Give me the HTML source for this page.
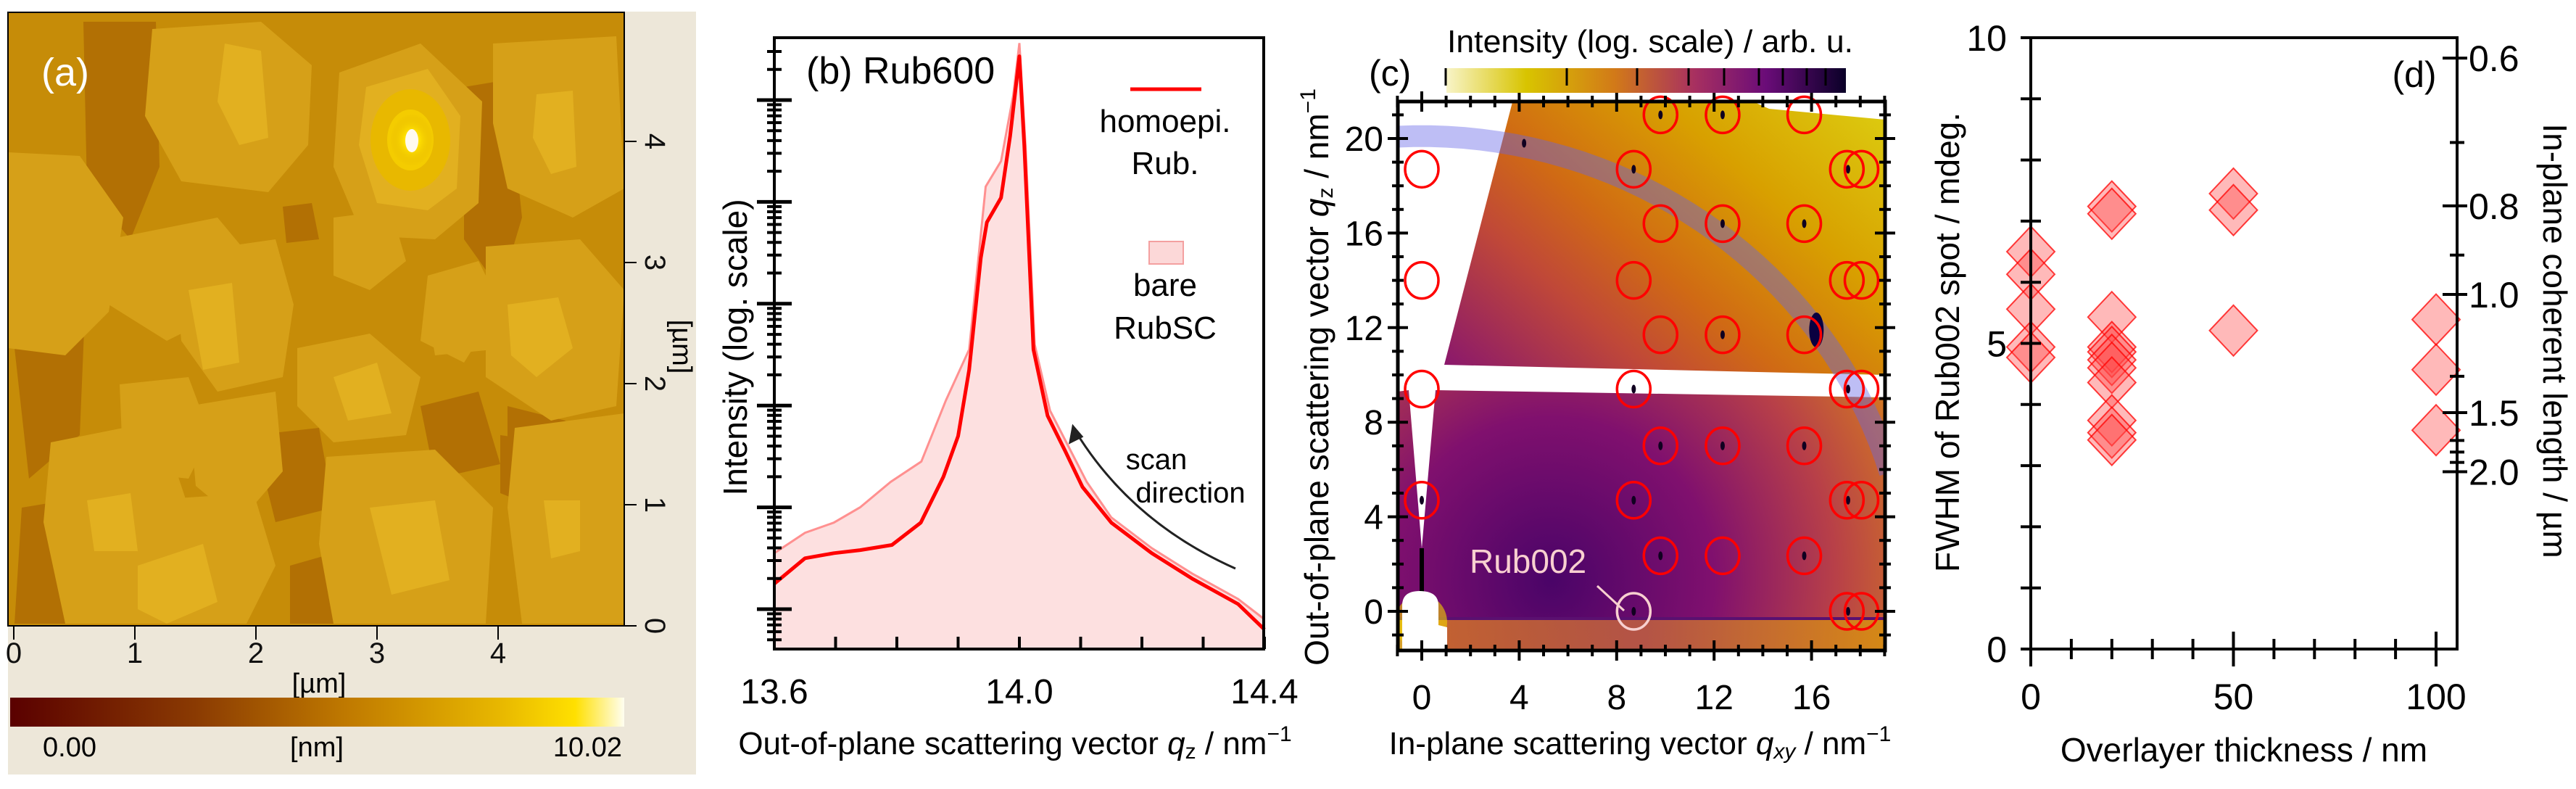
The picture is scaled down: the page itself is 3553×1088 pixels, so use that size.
<!DOCTYPE html>
<html><head><meta charset="utf-8"><style>
html,body{margin:0;padding:0;background:#fff;width:3553px;height:1088px;overflow:hidden;}
svg{display:block;font-family:"Liberation Sans",Arial,sans-serif;}
.n{font-family:"Liberation Sans Narrow","Liberation Sans",sans-serif;}
</style></head><body>
<svg id="fig" width="3553" height="1088" viewBox="0 0 3553 1088" xmlns="http://www.w3.org/2000/svg">
<defs>
<linearGradient id="afmbar" x1="0" x2="1" y1="0" y2="0">
<stop offset="0" stop-color="#5a0000"/><stop offset="0.3" stop-color="#8a3a02"/><stop offset="0.55" stop-color="#c07a00"/><stop offset="0.8" stop-color="#e8b800"/><stop offset="0.92" stop-color="#ffe000"/><stop offset="1" stop-color="#fffef0"/>
</linearGradient>
<radialGradient id="peak" cx="0.5" cy="0.5" r="0.5"><stop offset="0" stop-color="#fffff0"/><stop offset="0.35" stop-color="#ffe000"/><stop offset="1" stop-color="#e0b000" stop-opacity="0"/></radialGradient>
<linearGradient id="cbar" x1="0" x2="1" y1="0" y2="0">
<stop offset="0" stop-color="#f8f4c8"/><stop offset="0.2" stop-color="#d8c400"/><stop offset="0.42" stop-color="#d27a18"/><stop offset="0.62" stop-color="#a83060"/><stop offset="0.8" stop-color="#6a0c78"/><stop offset="1" stop-color="#0a0028"/>
</linearGradient>
<linearGradient id="upper" gradientUnits="userSpaceOnUse" x1="1960" y1="880" x2="2600" y2="150">
<stop offset="0" stop-color="#3a0660"/><stop offset="0.3" stop-color="#861470"/><stop offset="0.5" stop-color="#c04838"/><stop offset="0.62" stop-color="#d06a14"/><stop offset="0.8" stop-color="#d8a000"/><stop offset="1" stop-color="#dccc10"/>
</linearGradient>
<radialGradient id="lower" gradientUnits="userSpaceOnUse" cx="2140" cy="800" r="560">
<stop offset="0" stop-color="#4a0468"/><stop offset="0.4" stop-color="#80106e"/><stop offset="0.7" stop-color="#b84048"/><stop offset="1" stop-color="#d8861a"/>
</radialGradient>
<linearGradient id="strip" x1="0" x2="1" y1="0" y2="0"><stop offset="0" stop-color="#e8c020"/><stop offset="0.1" stop-color="#d07028"/><stop offset="0.5" stop-color="#c06040"/><stop offset="1" stop-color="#d89010"/></linearGradient>
<clipPath id="cclip"><rect x="1928" y="140" width="672" height="757"/></clipPath>
<clipPath id="aclip"><rect x="11" y="17" width="850" height="846"/></clipPath>
</defs>

<!-- PANEL A -->
<g>
<rect x="11" y="16" width="949" height="1052" fill="#ede7d9"/>
<g clip-path="url(#aclip)">
<rect x="11" y="17" width="850" height="846" fill="#c68c08"/>
<g fill="#b27004">
<path d="M115,30 L215,30 L220,230 L180,330 L120,260 Z"/>
<path d="M640,120 L700,110 L720,300 L690,400 L640,330 Z"/>
<path d="M390,285 L430,280 L440,330 L395,335 Z"/>
<path d="M60,330 L120,360 L110,600 L40,660 L20,480 Z"/>
<path d="M430,480 L520,470 L540,560 L470,600 L420,560 Z"/>
<path d="M350,600 L440,590 L460,700 L380,720 Z"/>
<path d="M580,560 L660,540 L690,640 L600,660 Z"/>
<path d="M700,560 L780,580 L760,640 L700,620 Z"/>
<path d="M30,700 L90,690 L100,860 L20,860 Z"/>
<path d="M400,780 L470,760 L480,860 L400,860 Z"/>
<path d="M690,600 L760,610 L740,700 L690,680 Z"/>
</g>
<g fill="#d6a018">
<path d="M210,40 L360,30 L430,90 L425,200 L370,265 L250,250 L200,160 Z"/>
<path d="M468,100 L580,60 L665,140 L660,280 L600,330 L500,325 L460,230 Z"/>
<path d="M680,60 L850,50 L861,260 L790,300 L700,260 L680,170 Z"/>
<path d="M11,210 L110,215 L170,300 L150,430 L90,490 L11,480 Z"/>
<path d="M150,330 L300,300 L350,360 L330,420 L230,470 L150,420 Z"/>
<path d="M240,350 L380,330 L405,420 L390,520 L300,540 L250,470 Z"/>
<path d="M460,300 L540,290 L560,360 L510,400 L460,380 Z"/>
<path d="M590,380 L660,360 L690,420 L640,500 L580,470 Z"/>
<path d="M670,340 L800,330 L861,400 L850,560 L760,580 L670,520 Z"/>
<path d="M410,480 L510,460 L580,520 L560,600 L460,610 L410,560 Z"/>
<path d="M165,530 L260,520 L290,600 L260,660 L170,650 Z"/>
<path d="M260,560 L380,540 L390,650 L330,720 L270,670 Z"/>
<path d="M70,610 L220,580 L260,700 L240,860 L90,860 L60,720 Z"/>
<path d="M200,690 L350,680 L380,780 L340,860 L200,860 Z"/>
<path d="M450,630 L600,620 L680,700 L670,860 L460,860 L440,750 Z"/>
<path d="M710,590 L861,570 L861,860 L720,860 L700,700 Z"/>
<path d="M590,430 L720,420 L700,480 L600,490 Z"/>
</g>
<g fill="#e2b020">
<path d="M310,60 L360,70 L370,190 L330,200 L300,140 Z"/>
<path d="M505,120 L590,95 L635,160 L630,260 L590,290 L520,280 L495,200 Z"/>
<path d="M740,130 L790,125 L795,230 L760,240 L735,190 Z"/>
<path d="M260,400 L320,390 L330,500 L280,510 Z"/>
<path d="M700,420 L770,410 L790,480 L740,520 L705,490 Z"/>
<path d="M460,520 L520,500 L540,570 L480,580 Z"/>
<path d="M190,780 L280,750 L300,830 L230,860 L190,840 Z"/>
<path d="M510,700 L600,690 L620,800 L540,820 Z"/>
<path d="M120,690 L180,680 L190,760 L130,760 Z"/>
<path d="M750,690 L800,690 L800,760 L760,770 Z"/>
</g>
<ellipse cx="566" cy="193" rx="55" ry="70" fill="#e8b800"/>
<ellipse cx="566" cy="193" rx="32" ry="42" fill="#f4cc00"/>
<ellipse cx="568" cy="193" rx="30" ry="36" fill="url(#peak)"/>
<ellipse cx="568" cy="194" rx="9" ry="16" fill="#fffaf0"/>
</g>
<rect x="11" y="17" width="850" height="846" fill="none" stroke="#000" stroke-width="2"/>
<text x="57" y="118" font-size="54" fill="#fff">(a)</text>
<g id="afmAxes" class="n" font-size="40" fill="#111"></g>
<text x="440" y="955" font-size="38" class="n" text-anchor="middle">[µm]</text>
<text transform="translate(928,478) rotate(90)" font-size="38" class="n" text-anchor="middle">[µm]</text>
<rect x="14" y="962" width="847" height="40" fill="url(#afmbar)"/>
<text x="96" y="1043" font-size="38" class="n" text-anchor="middle">0.00</text>
<text x="437" y="1043" font-size="38" class="n" text-anchor="middle">[nm]</text>
<text x="858" y="1043" font-size="38" class="n" text-anchor="end">10.02</text>
</g>

<!-- PANEL B -->
<g id="panelB">
<rect x="1068" y="52" width="675" height="843" fill="#fff"/>
<g id="bPlot"></g>
<rect x="1068" y="52" width="675" height="843" fill="none" stroke="#000" stroke-width="4"/>
<g id="bAxes"></g>
<text x="1112" y="115" font-size="52">(b) Rub600</text>
<line x1="1559" y1="123" x2="1657" y2="123" stroke="#ff0000" stroke-width="5"/>
<text x="1607" y="182" font-size="44" text-anchor="middle">homoepi.</text>
<text x="1607" y="240" font-size="44" text-anchor="middle">Rub.</text>
<rect x="1585" y="333" width="47" height="31" fill="#fcd8d8" stroke="#f4a0a0" stroke-width="2"/>
<text x="1607" y="408" font-size="44" text-anchor="middle">bare</text>
<text x="1607" y="467" font-size="44" text-anchor="middle">RubSC</text>
<text x="1595" y="647" font-size="40" text-anchor="middle">scan</text>
<text x="1642" y="693" font-size="40" text-anchor="middle">direction</text>
<path d="M1704,784 Q1560,720 1483,594" fill="none" stroke="#222" stroke-width="3"/>
<path d="M1480,588 L1476,610 L1492,602 Z" fill="#222" stroke="#222" stroke-width="3"/>
<text transform="translate(1030,479) rotate(-90)" font-size="46" text-anchor="middle">Intensity (log. scale)</text>
<text x="1400" y="1040" font-size="44" text-anchor="middle">Out-of-plane scattering vector <tspan font-style="italic">q</tspan><tspan font-size="30" dy="6">z</tspan><tspan dy="-6"> / nm</tspan><tspan font-size="30" dy="-18">−1</tspan></text>
</g>

<!-- PANEL C -->
<g id="panelC">
<g clip-path="url(#cclip)">
<path d="M2086,141 L2420,141 L2440,150 L2600,165 L2600,517 L1992,503 Z" fill="url(#upper)"/>
<path d="M1928,540 L1943,538 L1961,756 L1980,538 L2600,548 L2600,897 L1928,897 Z" fill="url(#lower)"/>
<rect x="1928" y="853" width="672" height="44" fill="url(#strip)" opacity="0.85"/>
<line x1="1928" y1="853" x2="2600" y2="853" stroke="#5a1070" stroke-width="4"/>
<line x1="1961" y1="756" x2="1961" y2="830" stroke="#000" stroke-width="6"/>
<ellipse cx="1960" cy="858" rx="36" ry="38" fill="#f2d000" opacity="0.6"/>
<path d="M1934,893 L1934,835 Q1934,815 1958,815 Q1984,815 1984,835 L1984,862 L1996,865 L1996,897 L1934,897 Z" fill="#fff"/>
<g id="ring"></g>
<g id="cSpots"></g>
</g>
<g id="cCircles"></g>
<rect x="1928" y="140" width="672" height="757" fill="none" stroke="#000" stroke-width="5"/>
<g id="cAxes"></g>
<rect x="1995" y="94" width="551" height="34" fill="url(#cbar)"/>
<g id="cbarTicks" stroke="#000" stroke-width="3"></g>
<text x="2276" y="72" font-size="44" text-anchor="middle" textLength="560" lengthAdjust="spacingAndGlyphs">Intensity (log. scale) / arb. u.</text>
<text x="1888" y="118" font-size="50">(c)</text>
<text x="2027" y="790" font-size="46" fill="#f8d0d0">Rub002</text>
<line x1="2203" y1="808" x2="2240" y2="842" stroke="#f8d0d0" stroke-width="3"/>
<text transform="translate(1832,520) rotate(-90)" font-size="46" text-anchor="middle">Out-of-plane scattering vector <tspan font-style="italic">q</tspan><tspan font-size="30" dy="6">z</tspan><tspan dy="-6"> / nm</tspan><tspan font-size="30" dy="-18">−1</tspan></text>
<text x="2262" y="1040" font-size="44" text-anchor="middle">In-plane scattering vector <tspan font-style="italic">q</tspan><tspan font-size="30" dy="6" font-style="italic">xy</tspan><tspan dy="-6"> / nm</tspan><tspan font-size="30" dy="-18">−1</tspan></text>
</g>

<!-- PANEL D -->
<g id="panelD">
<g id="dMarks"></g>
<rect x="2801" y="52" width="588" height="843" fill="none" stroke="#000" stroke-width="4"/>
<g id="dAxes"></g>
<text x="3330" y="120" font-size="50" text-anchor="middle">(d)</text>
<text transform="translate(2702,472) rotate(-90)" font-size="46" text-anchor="middle">FWHM of Rub002 spot / mdeg.</text>
<text transform="translate(3508,470) rotate(90)" font-size="46" text-anchor="middle">In-plane coherent length / µm</text>
<text x="3095" y="1050" font-size="46" text-anchor="middle">Overlayer thickness / nm</text>
</g>
</svg>
<script>
// ---------- data ----------
const afmXTicks = [0,1,2,3,4];
const afmYTicks = [0,1,2,3,4];

const bTickLabels = [13.6, 14.0, 14.4];
const homoQ = [13.600,13.650,13.697,13.740,13.792,13.839,13.876,13.900,13.918,13.937,13.947,13.970,13.985,14.000,14.008,14.023,14.046,14.075,14.103,14.150,14.216,14.282,14.357,14.400];
const homoLogI = [0.25,0.50,0.55,0.58,0.63,0.85,1.30,1.70,2.35,3.45,3.80,4.04,4.65,5.43,4.55,2.55,1.90,1.55,1.20,0.85,0.55,0.30,0.05,-0.20];
const bareQ = [13.600,13.650,13.697,13.740,13.790,13.840,13.880,13.918,13.945,13.970,13.990,14.000,14.010,14.025,14.050,14.080,14.110,14.150,14.216,14.282,14.357,14.400];
const bareLogI = [0.55,0.75,0.85,1.00,1.25,1.45,2.05,2.55,4.15,4.40,5.05,5.56,4.55,2.60,1.95,1.60,1.25,0.90,0.60,0.35,0.10,-0.10];

const cXTickLabels = [0,4,8,12,16];
const cYTickLabels = [0,4,8,12,16,20];
const circleQxy = [0,0,0,0, 8.7,8.7,8.7,8.7, 9.8,9.8,9.8,9.8,9.8, 12.35,12.35,12.35,12.35,12.35, 15.7,15.7,15.7,15.7,15.7, 17.45,17.45,17.45,17.45,17.45, 18.05,18.05,18.05,18.05,18.05];
const circleQz  = [18.7,14.0,9.4,4.7, 18.7,14.0,9.4,4.7, 21.0,16.4,11.7,7.0,2.35, 21.0,16.4,11.7,7.0,2.35, 21.0,16.4,11.7,7.0,2.35, 18.7,14.0,9.4,4.7,0, 18.7,14.0,9.4,4.7,0];
const spotQxy = [8.7,8.7,8.7,9.8,9.8,9.8,12.35,12.35,12.35,12.35,15.7,15.7,15.7,17.5,17.5,17.5,17.5,8.7,0,4.2];
const spotQz  = [18.7,9.4,4.7,21.0,7.0,2.35,21.0,16.4,11.7,7.0,16.4,7.0,2.35,18.7,9.4,4.7,0,0,4.7,19.8];
const rub002Qxy = 8.7, rub002Qz = 0;
const ringRadius = 20.1;

const dXTickLabels = [0,50,100];
const dYTickLabels = [0,5,10];
const lenTickLabels = [0.6,0.8,1.0,1.5,2.0];
const lenMinor = [0.7,0.9,1.3,1.7,1.8,1.9];
const thick = [0,0,0,0,0, 20,20,20,20,20,20,20,20,20,20,20, 50,50,50, 100,100,100];
const fwhm  = [6.5,6.13,5.56,4.94,4.77, 7.24,7.12,5.43,4.94,4.86,4.73,4.6,4.36,3.74,3.54,3.42, 7.45,7.18,5.21, 5.39,4.57,3.58];

// ---------- helpers ----------
const NS='http://www.w3.org/2000/svg';
function mk(tag, attrs, parent){const e=document.createElementNS(NS,tag);for(const k in attrs)e.setAttribute(k,attrs[k]);parent.appendChild(e);return e;}
function $(id){return document.getElementById(id);}

// ---------- panel a axes ----------
const ax = v => 19 + v*167, ay = v => 863 - v*167;
afmXTicks.forEach(v=>{
  const t=mk('line',{x1:ax(v),y1:864,x2:ax(v),y2:882,stroke:'#000','stroke-width':2},$('afmAxes'));
  
  
  const l=mk('text',{x:ax(v),y:914,'text-anchor':'middle'},$('afmAxes'));l.textContent=v;
  
  
});
afmYTicks.forEach(v=>{
  mk('line',{x1:862,y1:ay(v),x2:878,y2:ay(v),stroke:'#000','stroke-width':2},$('afmAxes'));
  const l=mk('text',{transform:`translate(890,${ay(v)}) rotate(90)`,'text-anchor':'middle'},$('afmAxes'));l.textContent=v;
  
  
});

// ---------- panel b ----------
const bx = q => 1068 + (q-13.6)*845;
const by = v => 840 - v*140.4;
function pts(xs,ys){return xs.map((q,i)=>bx(q).toFixed(1)+','+by(ys[i]).toFixed(1));}
const bareArea = mk('polygon',{points:[bx(bareQ[0])+',895'].concat(pts(bareQ,bareLogI),[bx(bareQ[bareQ.length-1])+',895']).join(' '),fill:'#fde0e0'},$('bPlot'));


const bareLine = mk('polyline',{points:pts(bareQ,bareLogI).join(' '),fill:'none',stroke:'#ff9090','stroke-width':3},$('bPlot'));


const homoLine = mk('polyline',{points:pts(homoQ,homoLogI).join(' '),fill:'none',stroke:'#ff0000','stroke-width':5,'stroke-linejoin':'round'},$('bPlot'));


for(let k=0;k<=8;k++){const q=13.6+k*0.1;mk('line',{x1:bx(q),y1:895,x2:bx(q),y2:878,stroke:'#000','stroke-width':4},$('bAxes'));}
bTickLabels.forEach(q=>{const l=mk('text',{x:bx(q),y:970,'font-size':48,'text-anchor':'middle'},$('bAxes'));l.textContent=q.toFixed(1);
  
  });
for(let d=-1;d<=5;d++){for(let m=1;m<=9;m++){const v=d+Math.log10(m);const y=by(v);if(y<54||y>893)continue;
  const len = m===1?24:10; mk('line',{x1:1068-len,y1:y,x2:1068+len,y2:y,stroke:'#000','stroke-width':m===1?5:4},$('bAxes'));}}

// ---------- panel c ----------
const cx = q => 1961 + q*33.6;
const cy = q => 843 - q*32.6;
// ring drawn as arc path only over the visible range (qz >= 6)
const ringPts = [];
for(let a=93; a>=17; a-=2){const r=a*Math.PI/180;ringPts.push(cx(ringRadius*Math.cos(r)).toFixed(1)+','+cy(ringRadius*Math.sin(r)).toFixed(1));}
const ring = mk('polyline',{points:ringPts.join(' '),fill:'none',stroke:'rgba(100,100,230,0.42)','stroke-width':30},$('ring'));


spotQxy.forEach((q,i)=>{const s=mk('ellipse',{cx:cx(q),cy:cy(spotQz[i]),rx:3,ry:6,fill:'#100020'},$('cSpots'));
  
  });
mk('ellipse',{cx:cx(16.2),cy:cy(11.9),rx:10,ry:24,fill:'#0a0040'},$('cSpots'));
circleQxy.forEach((q,i)=>{const c=mk('ellipse',{cx:cx(q),cy:cy(circleQz[i]),rx:23,ry:25,fill:'none',stroke:'#ff0000','stroke-width':3.5},$('cCircles'));
  
  });
const rc=mk('ellipse',{cx:cx(rub002Qxy),cy:cy(rub002Qz),rx:23,ry:25,fill:'none',stroke:'#f8d0d0','stroke-width':3.5},$('cCircles'));


for(let q=-1;q<=19;q++){const x=cx(q),big=q%4===0?14:8;
  mk('line',{x1:x,y1:897-big,x2:x,y2:897+big,stroke:'#000','stroke-width':4},$('cAxes'));
  mk('line',{x1:x,y1:140-big,x2:x,y2:140+big,stroke:'#000','stroke-width':4},$('cAxes'));}
for(let q=-1;q<=21;q++){const y=cy(q),big=q%4===0?14:8;
  mk('line',{x1:1928-big,y1:y,x2:1928+big,y2:y,stroke:'#000','stroke-width':4},$('cAxes'));
  mk('line',{x1:2600-big,y1:y,x2:2600+big,y2:y,stroke:'#000','stroke-width':4},$('cAxes'));}
cXTickLabels.forEach(q=>{const l=mk('text',{x:cx(q),y:978,'font-size':48,'text-anchor':'middle'},$('cAxes'));l.textContent=q;
  
  });
cYTickLabels.forEach(q=>{const l=mk('text',{x:1908,y:cy(q)+17,'font-size':48,'text-anchor':'end'},$('cAxes'));l.textContent=q;
  
  });
[1994,2161,2258,2329,2378,2426,2459,2492,2518].forEach(x=>mk('line',{x1:x,y1:94,x2:x,y2:118},$('cbarTicks')));

// ---------- panel d ----------
const dx = t => 2801 + t*5.59;
const dy = f => 895 - f*84.3;
thick.forEach((t,i)=>{const x=dx(t),y=dy(fwhm[i]);
  const p=mk('polygon',{points:`${x},${y-35} ${x+33},${y} ${x},${y+35} ${x-33},${y}`,fill:'rgba(255,70,70,0.38)',stroke:'rgba(255,0,0,0.75)','stroke-width':2},$('dMarks'));
  
  });
for(let f=0;f<=10;f++){mk('line',{x1:2787,y1:dy(f),x2:2815,y2:dy(f),stroke:'#000','stroke-width':4},$('dAxes'));}
for(let t=0;t<=100;t+=10){const big=t%50===0?24:14;mk('line',{x1:dx(t),y1:895-big,x2:dx(t),y2:895+big,stroke:'#000','stroke-width':4},$('dAxes'));}
dXTickLabels.forEach(t=>{const l=mk('text',{x:dx(t),y:978,'font-size':50,'text-anchor':'middle'},$('dAxes'));l.textContent=t;
  
  });
dYTickLabels.forEach(f=>{const l=mk('text',{x:2768,y:dy(f)+18,'font-size':50,'text-anchor':'end'},$('dAxes'));l.textContent=f;
  
  });
const lenToF = L => 5.8/L;
lenTickLabels.forEach(L=>{const y=dy(lenToF(L));mk('line',{x1:3369,y1:y,x2:3403,y2:y,stroke:'#000','stroke-width':4},$('dAxes'));
  const l=mk('text',{x:3405,y:y+18,'font-size':50},$('dAxes'));l.textContent=L.toFixed(1);
  
  });
lenMinor.forEach(L=>{const y=dy(lenToF(L));mk('line',{x1:3379,y1:y,x2:3399,y2:y,stroke:'#000','stroke-width':4},$('dAxes'));});
</script>
</body></html>
